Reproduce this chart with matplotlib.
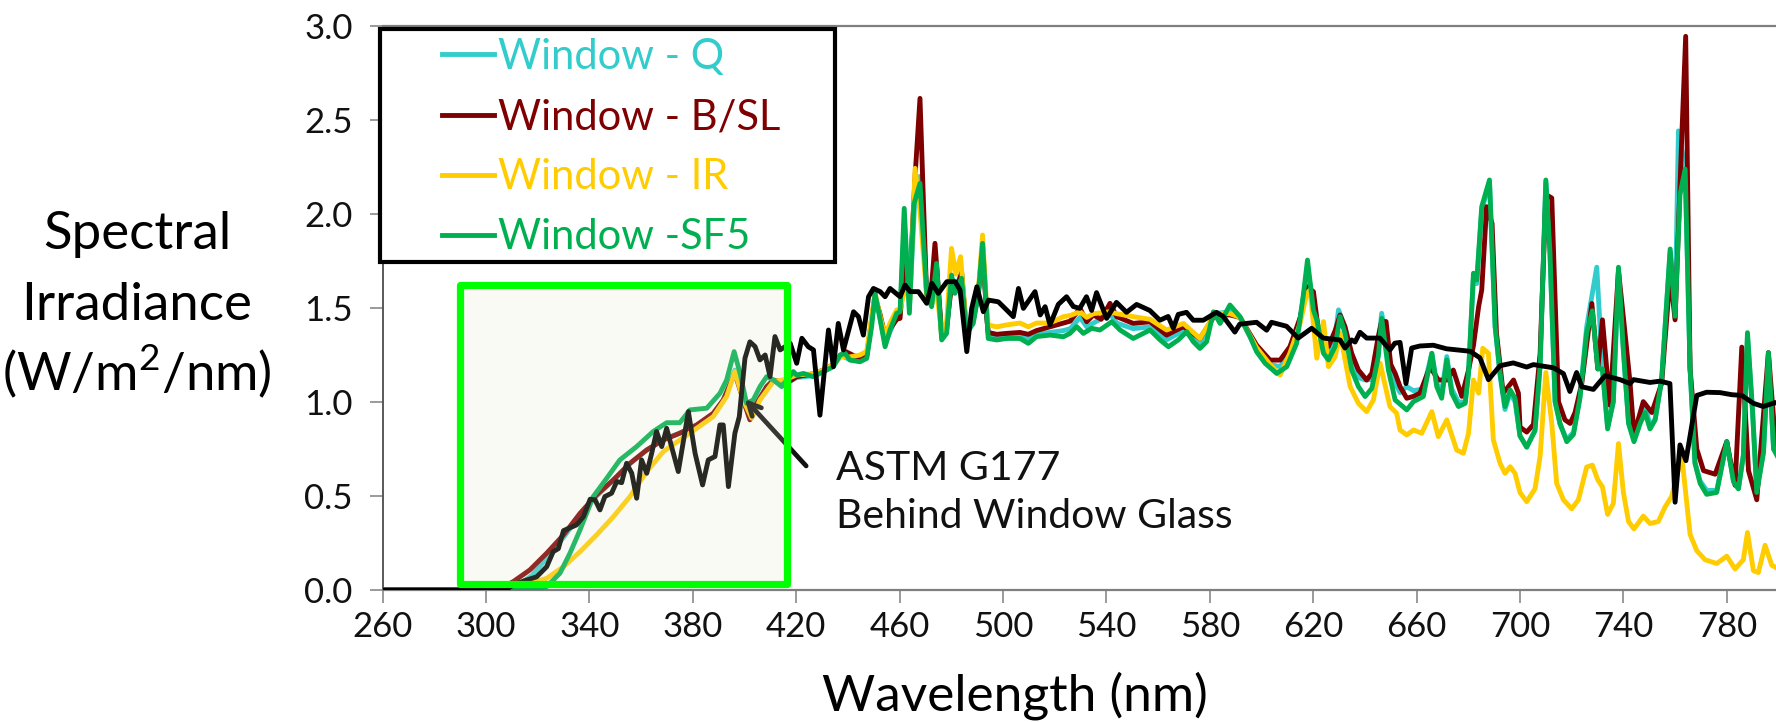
import matplotlib.pyplot as plt
from matplotlib.patches import Rectangle

plt.rcParams['font.family'] = ['Lato', 'DejaVu Sans']
plt.rcParams['mathtext.fontset'] = 'custom'
plt.rcParams['mathtext.rm'] = 'Lato'

# Window - Q
q_nm = [260, 300, 308, 313, 318, 323.5, 330, 336.4, 342.8, 349.3, 355.7, 362.2, 368.6, 375, 381.5, 387.9,
        391.8, 396.3, 399.5, 402.1, 404.7, 408.6, 411.2, 416.3, 420.2, 426.6, 430.5, 434.4, 437, 440.8,
        444.7, 447.3, 450.5, 452.4, 454.4, 458.9, 460.2, 461.8, 463.8, 466, 467.9, 470.5, 472.4, 474.3,
        476.3, 478.2, 480.1, 482, 484, 485.9, 488.5, 490.5, 492.1, 493.7, 494.3, 497.6, 501.4, 506.6,
        509.8, 513, 518.2, 523.4, 526, 529.8, 532.4, 535, 541.4, 544, 550.4, 556.9, 563.3, 569.8, 576.2,
        582, 587.8, 591.7, 598.1, 603.3, 607.2, 611, 615, 617.8, 620.1, 622, 624, 625.9, 628.5, 629.8,
        632.3, 634.9, 637.5, 640.1, 642.7, 645.2, 646.5, 649.1, 651.7, 653.6, 656.2, 658.8, 662.6, 665.9,
        667.8, 669.7, 671.7, 673.6, 676.2, 678.8, 680.1, 682, 683.3, 685.2, 688.2, 690.4, 692.3, 694.2,
        696.2, 698.1, 700, 702.6, 705.8, 707.8, 710, 711.6, 713.6, 715.5, 718.1, 720.7, 723.2, 725.8,
        729.7, 731.9, 733.9, 736.1, 738.1, 740, 742, 744.1, 746.5, 748.4, 750.3, 752.3, 754.8, 758.1,
        760, 761.3, 763.9, 765.8, 767.7, 769.7, 772.2, 776.1, 780, 782.6, 784.5, 786.4, 788, 790, 791.6,
        794.2, 796.1, 798.1, 800]
q_val = [0, 0, 0.005, 0.03, 0.08, 0.17, 0.28, 0.40, 0.50, 0.585, 0.672, 0.745, 0.80, 0.835, 0.875, 0.935,
         1.01, 1.17, 1.01, 0.92, 0.99, 1.08, 1.11, 1.10, 1.13, 1.14, 1.165, 1.19, 1.25, 1.225,
         1.22, 1.24, 1.57, 1.45, 1.31, 1.46, 1.47, 1.95, 1.5, 2.1, 2.2, 1.58, 1.52, 1.72,
         1.34, 1.38, 1.66, 1.62, 1.685, 1.37, 1.43, 1.58, 1.84, 1.47, 1.36, 1.35, 1.355, 1.355,
         1.34, 1.36, 1.37, 1.38, 1.39, 1.45, 1.40, 1.42, 1.47, 1.42, 1.39, 1.40, 1.33, 1.38, 1.31,
         1.47, 1.48, 1.45, 1.28, 1.20, 1.188, 1.26, 1.45, 1.70, 1.52, 1.40, 1.28, 1.25, 1.35, 1.49,
         1.40, 1.22, 1.13, 1.117, 1.12, 1.30, 1.472, 1.25, 1.10, 1.05, 1.082, 1.06, 1.07, 1.259,
         1.10, 1.05, 1.242, 1.07, 1.00, 1.0, 1.16, 1.66, 1.63, 2.02, 2.17, 1.40, 1.14, 0.96,
         1.05, 1.00, 0.82, 0.76, 0.85, 1.2, 2.17, 1.79, 1.0, 0.88, 0.80, 0.84, 1.03, 1.40,
         1.717, 1.17, 0.87, 1.0, 1.70, 1.28, 0.89, 0.80, 0.90, 0.99, 0.87, 0.91, 1.12, 1.80,
         1.45, 2.442, 2.24, 1.18, 0.68, 0.58, 0.53, 0.53, 0.79, 0.58, 0.54, 0.72, 1.35, 0.94, 0.53,
         0.74, 1.25, 0.75, 0.72]

# Window - B/SL
bsl_nm = [260, 300, 305, 310.6, 317, 323.5, 330, 336.4, 342.8, 349.3, 355.7, 362.2, 368.6, 375, 381.5,
          387.9, 391.8, 396.3, 399.5, 402.1, 404.7, 408.6, 411.2, 416.3, 420.2, 426.6, 430.5, 434.4,
          438.9, 444.7, 447.3, 450.5, 452.4, 454.4, 458.9, 460.2, 461.8, 463.8, 466, 467.9, 470.5, 472,
          473.7, 476.3, 478.2, 480.1, 482, 484, 485.9, 488.5, 490.5, 492.1, 493.7, 494.3, 497.6, 501.4,
          506.6, 509.8, 513, 518.2, 523.4, 526, 529.8, 532.4, 535, 538, 541.4, 544, 550.4, 556.9, 563.3,
          569.8, 576.2, 582, 587.8, 591.7, 598.1, 603.3, 607.2, 611, 615, 617.5, 620.1, 622, 624, 625.9,
          628.5, 630.4, 632.3, 634.9, 637.5, 640.7, 642.7, 645.2, 646.5, 648.2, 650, 651.7, 653.6, 656.2,
          658.8, 661.3, 665.2, 668.4, 671.7, 674.2, 677.5, 680.1, 682, 684, 685.2, 687.1, 689.2, 690.9,
          693.5, 697.5, 699.4, 700, 702.6, 705.2, 707.8, 710, 712.3, 714.9, 717.4, 719.4, 721.3, 723.9,
          727.8, 730.1, 731.9, 734.8, 738.1, 740.4, 742.6, 744.1, 747.7, 751, 754.8, 758.1, 760, 762.6,
          764.1, 765.8, 768.4, 771, 775.5, 780, 783.2, 785.8, 788.4, 791.6, 796.1, 798.7, 800]
bsl_val = [0, 0, 0.005, 0.045, 0.107, 0.196, 0.293, 0.408, 0.506, 0.586, 0.674, 0.745, 0.798, 0.834, 0.878,
           0.94, 1.011, 1.153, 1.011, 0.905, 0.993, 1.082, 1.117, 1.1, 1.135, 1.15, 1.17, 1.2,
           1.27, 1.23, 1.25, 1.56, 1.47, 1.35, 1.44, 1.445, 1.75, 1.6, 2.2, 2.615, 1.55, 1.55,
           1.844, 1.36, 1.40, 1.62, 1.60, 1.69, 1.37, 1.44, 1.58, 1.83, 1.45, 1.37, 1.36, 1.365,
           1.37, 1.36, 1.38, 1.40, 1.42, 1.43, 1.498, 1.427, 1.463, 1.44, 1.525, 1.454, 1.418, 1.427, 1.356,
           1.401, 1.338, 1.463, 1.463, 1.45, 1.303, 1.223, 1.223, 1.294, 1.45, 1.613, 1.587, 1.383, 1.3, 1.295,
           1.38, 1.463, 1.40, 1.259, 1.17, 1.117, 1.153, 1.35, 1.43, 1.428, 1.2, 1.153, 1.082, 1.02,
           1.03, 1.047, 1.188, 1.117, 1.117, 1.17, 1.03, 1.17, 1.30, 1.507, 1.596, 2.039, 1.95, 1.367,
           1.047, 1.117, 1.047, 0.867, 0.84, 0.88, 1.26, 2.104, 2.085, 1.002, 0.905, 0.886, 0.944, 1.099,
           1.524, 1.176, 1.437, 0.983, 1.698, 1.398, 1.099, 0.828, 1.002, 0.944, 1.099, 1.678, 1.437, 2.413,
           2.945, 1.176, 0.75, 0.635, 0.616, 0.789, 0.557, 1.292, 0.635, 0.48, 1.263, 0.81, 0.75]

# Window - IR
ir_nm = [260, 300, 312, 317, 323.5, 330, 336.4, 342.8, 349.3, 355.7, 362.2, 368.6, 375, 381.5, 387.9,
         393.1, 396.3, 399.5, 402.8, 406, 411.2, 416, 420.2, 426.6, 430.5, 434.4, 437, 440.8, 444.7,
         447.3, 450.5, 452.4, 454.4, 456.3, 458.9, 460.2, 462, 464, 466, 468, 470.5, 472.4, 474.3, 476.3,
         478.2, 480.1, 481.8, 483.6, 485.9, 488.5, 490.5, 492.1, 493.7, 494.3, 497.6, 501.4, 506.6, 509.8,
         513, 518.2, 523.4, 526, 529.8, 532.4, 535, 541.4, 544, 550.4, 556.9, 563.3, 569.8, 576.2, 582,
         587.8, 591.7, 598.1, 603.3, 607.2, 611, 615, 617.5, 618.8, 621.4, 624, 625.9, 628.5, 630.4,
         634.3, 637.5, 640.7, 643.3, 645.9, 649.7, 652.3, 653.6, 656.2, 658.8, 662, 665.9, 668.4, 671.7,
         675.5, 678.1, 680.1, 682, 684, 685.6, 687.8, 689.7, 692.3, 694.2, 696.2, 698.1, 700, 702.6,
         705.8, 707.8, 710, 712.3, 714.2, 716.8, 720, 722.6, 725.8, 728, 730.1, 731.9, 733.9, 736.1,
         738.1, 740, 742, 744.1, 747.7, 750.3, 753.5, 756.1, 758.7, 762.6, 765.8, 768.4, 771.6, 776.1,
         780, 783.2, 786.4, 788, 790.3, 792.2, 794.8, 797.4, 800]
ir_val = [0, 0, 0.01, 0.036, 0.062, 0.124, 0.204, 0.293, 0.39, 0.497, 0.63, 0.736, 0.798, 0.86, 0.922,
          1.029, 1.162, 1.011, 0.914, 1.011, 1.109, 1.12, 1.144, 1.15, 1.17, 1.2, 1.24, 1.24, 1.25,
          1.27, 1.58, 1.46, 1.35, 1.42, 1.49, 1.49, 1.6, 1.55, 2.243, 2.0, 1.56, 1.52, 1.60, 1.36,
          1.42, 1.817, 1.68, 1.773, 1.38, 1.45, 1.60, 1.888, 1.50, 1.41, 1.40, 1.41, 1.42, 1.40,
          1.42, 1.42, 1.454, 1.46, 1.48, 1.45, 1.47, 1.48, 1.47, 1.454, 1.44, 1.383, 1.418, 1.338, 1.47,
          1.47, 1.45, 1.29, 1.20, 1.143, 1.26, 1.42, 1.578, 1.596, 1.233, 1.428, 1.188, 1.241, 1.366,
          1.082, 0.993, 0.949, 1.011, 1.206, 0.976, 0.94, 0.851, 0.825, 0.851, 0.834, 0.949, 0.816, 0.905,
          0.745, 0.727, 0.834, 1.117, 1.047, 1.286, 1.259, 0.798, 0.674, 0.621, 0.656, 0.62, 0.519, 0.47,
          0.538, 0.712, 1.157, 0.886, 0.567, 0.48, 0.432, 0.48, 0.654, 0.664, 0.586, 0.548, 0.402, 0.46,
          0.779, 0.519, 0.364, 0.325, 0.393, 0.354, 0.364, 0.441, 0.499, 0.712, 0.296, 0.209, 0.161, 0.141,
          0.18, 0.112, 0.161, 0.306, 0.103, 0.093, 0.238, 0.132, 0.112]

# Window - SF5
sf5_nm = [260, 300, 312, 318.3, 323.5, 328.6, 332.5, 336.4, 341.5, 346.7, 351.8, 358.3, 364.7, 369.9, 375,
          378.9, 385.4, 390.5, 393.1, 396, 398.3, 400.8, 403.4, 406, 408.6, 411.2, 414.4, 418.9, 420.2,
          422.8, 426.6, 430.5, 434.4, 437, 438.9, 440.8, 444.7, 447.3, 449.2, 450.5, 452.4, 454.4, 456.3,
          458.9, 460.2, 461.8, 463.8, 465.5, 467.9, 470.5, 472.4, 474.3, 476.3, 478.2, 480.1, 481.4, 484,
          485.9, 488.5, 490.5, 492.1, 493.7, 494.3, 497.6, 501.4, 506.6, 509.8, 513, 518.2, 523.4, 525.9,
          528.5, 531.1, 534.3, 537.5, 542.1, 545.3, 550.4, 556.9, 560.8, 564, 567.8, 571.1, 573.6, 576.2,
          578.8, 581.4, 584, 587.8, 591.7, 595.6, 598.1, 601.4, 605.9, 609.8, 613.6, 616.2, 617.8, 620.1,
          621.4, 624, 625.9, 628.5, 630.4, 632.3, 634.9, 637.5, 640.1, 642.7, 645.2, 646.5, 649.1, 651.7,
          656.2, 658.8, 662.6, 665.9, 667.8, 669.7, 671.7, 673.6, 676.2, 678.8, 680.1, 682, 683.3, 685.2,
          688.2, 690.4, 692.3, 694.2, 696.2, 698.1, 700, 702.6, 705.8, 707.8, 710, 711.6, 713.6, 715.5,
          718.1, 720.7, 723.2, 725.8, 728, 730.1, 731.9, 733.9, 736.1, 738.1, 740, 742, 744.1, 746.5,
          748.4, 750.3, 752.3, 754.8, 758.1, 760, 761.9, 763.9, 765.8, 767.7, 769.7, 772.2, 776.1, 780,
          782.6, 784.5, 786.4, 788, 790, 791.6, 794.2, 796.1, 798.1, 800]
sf5_val = [0, 0, 0, 0.004, 0.018, 0.089, 0.196, 0.32, 0.497, 0.594, 0.692, 0.763, 0.843, 0.89, 0.89,
           0.958, 0.967, 1.046, 1.117, 1.268, 1.153, 0.993, 1.011, 1.082, 1.135, 1.117, 1.082, 1.162, 1.143,
           1.152, 1.135, 1.161, 1.188, 1.25, 1.259, 1.223, 1.214, 1.232, 1.401, 1.578, 1.445, 1.294, 1.383,
           1.472, 1.48, 2.03, 1.472, 2.05, 2.163, 1.578, 1.507, 1.737, 1.33, 1.365, 1.675, 1.578, 1.658,
           1.365, 1.418, 1.578, 1.844, 1.472, 1.338, 1.33, 1.338, 1.338, 1.312, 1.348, 1.356, 1.347, 1.365,
           1.401, 1.365, 1.392, 1.383, 1.427, 1.383, 1.338, 1.383, 1.33, 1.294, 1.33, 1.374, 1.321, 1.285,
           1.321, 1.48, 1.418, 1.516, 1.454, 1.347, 1.268, 1.206, 1.152, 1.188, 1.312, 1.569, 1.755, 1.489,
           1.437, 1.259, 1.224, 1.295, 1.454, 1.366, 1.17, 1.082, 1.029, 1.073, 1.242, 1.445, 1.17, 1.011,
           0.958, 1.002, 1.029, 1.259, 1.082, 1.02, 1.224, 1.047, 0.976, 0.993, 1.153, 1.685, 1.649, 2.039,
           2.181, 1.401, 1.153, 0.976, 1.064, 1.02, 0.82, 0.76, 0.847, 1.195, 2.181, 1.795, 1.002, 0.886,
           0.789, 0.828, 1.021, 1.369, 1.485, 1.176, 1.176, 0.857, 1.002, 1.717, 1.272, 0.886, 0.789, 0.886,
           0.944, 0.857, 0.905, 1.118, 1.814, 1.456, 2.104, 2.239, 1.176, 0.673, 0.567, 0.509, 0.519, 0.789,
           0.576, 0.538, 0.712, 1.369, 0.944, 0.519, 0.731, 1.263, 0.75, 0.7]

# ASTM G177 behind window glass
astm_nm = [260, 300, 308, 310.6, 315, 319.6, 323.5, 326, 328, 330, 335, 337.7, 340.3, 342.2, 344.1, 346,
           348.6, 350.6, 352.5, 354.4, 356.4, 358.3, 360.2, 362.2, 364.1, 366, 368, 369.9, 371.8, 374.4,
           378.3, 380.9, 383.8, 386, 388.6, 390.5, 391.8, 393.8, 396.3, 398, 400.2, 402.1, 404.1, 406, 408,
           409.9, 411.8, 413.8, 417.7, 420.2, 422.2, 424.7, 426.7, 429.2, 432.5, 434.4, 436.3, 438.3, 442.2,
           444.1, 446, 448, 449.9, 452.5, 454.4, 456.3, 460.2, 462.1, 464.1, 467.3, 470.5, 472.5, 475,
           478.3, 481.5, 483.4, 486, 487.9, 489.9, 492.4, 494.4, 498.2, 500.8, 504, 506, 507.9, 512.4,
           514.4, 516.3, 518.2, 521.4, 524.6, 527.2, 529.7, 532.3, 534.3, 536.2, 540.1, 543.9, 547.8,
           551.7, 556.8, 560.7, 563.9, 565.9, 567.8, 571, 573.6, 577.5, 582.6, 585.2, 589.7, 591.6, 598.1,
           602, 603.9, 609.7, 614.2, 619.4, 623.9, 630.4, 632.3, 634.9, 636.2, 638.1, 640.7, 645.8, 649.7,
           651.6, 653.6, 655.9, 658.1, 661.3, 666.5, 671.6, 680.7, 684.5, 687.8, 692.3, 697.4, 702.6,
           705.2, 712.9, 716.8, 719.3, 721.9, 723.9, 728.4, 732.9, 738.7, 742.6, 743.9, 750.3, 754.2, 758,
           760, 761.9, 764.2, 768.4, 772.2, 777.4, 781.9, 785.8, 790.3, 794.1, 798.7, 800]
astm_val = [0, 0, 0.005, 0.027, 0.05, 0.07, 0.124, 0.204, 0.22, 0.316, 0.346, 0.39, 0.483, 0.48, 0.426, 0.497,
            0.515, 0.577, 0.571, 0.674, 0.621, 0.488, 0.692, 0.621, 0.727, 0.843, 0.763, 0.86, 0.763, 0.63,
            0.949, 0.727, 0.559, 0.692, 0.71, 0.878, 0.878, 0.55, 0.834, 0.922, 1.233, 1.32, 1.295, 1.224, 1.25,
            1.135, 1.348, 1.277, 1.312, 1.206, 1.339, 1.294, 1.277, 0.93, 1.383, 1.188, 1.418, 1.277, 1.48,
            1.454, 1.356, 1.56, 1.604, 1.587, 1.56, 1.604, 1.56, 1.622, 1.587, 1.587, 1.525, 1.631, 1.578,
            1.64, 1.64, 1.596, 1.268, 1.498, 1.613, 1.48, 1.542, 1.533, 1.498, 1.454, 1.604, 1.498, 1.587,
            1.463, 1.507, 1.41, 1.519, 1.56, 1.508, 1.498, 1.56, 1.487, 1.582, 1.445, 1.53, 1.477,
            1.519, 1.487, 1.435, 1.455, 1.393, 1.466, 1.477, 1.435, 1.435, 1.477, 1.455, 1.372, 1.414, 1.424,
            1.382, 1.424, 1.403, 1.34, 1.392, 1.34, 1.33, 1.287, 1.33, 1.319, 1.371, 1.34, 1.34, 1.277,
            1.313, 1.317, 1.098, 1.287, 1.298, 1.302, 1.283, 1.27, 1.235, 1.119, 1.193, 1.208, 1.186,
            1.199, 1.182, 1.151, 1.056, 1.157, 1.081, 1.067, 1.14, 1.119, 1.098, 1.119, 1.104, 1.111, 1.098,
            0.467, 0.772, 0.688, 1.035, 1.052, 1.05, 1.039, 1.035, 0.993, 0.976, 0.997, 0.99]

x_ticks = list(range(260, 781, 40))
y_ticks = [0.0, 0.5, 1.0, 1.5, 2.0, 2.5, 3.0]
ylabel_lines = ['Spectral', 'Irradiance', '(W/m$^{2}$/nm)']

# highlighted UV band and the pointer to the ASTM curve
box_nm = (290, 416.5)
box_val = (0.03, 1.62)
arrow_head = (399.4, 1.027)
arrow_tail = (424.6, 0.649)

fig = plt.figure(figsize=(17.76, 7.22), dpi=100)
ax = fig.add_axes([0.2154, 0.1828, 0.786, 0.7812])

lw = 3.5
ax.plot(q_nm, q_val, color='#33CCCC', lw=lw, label='Window - Q', zorder=2)
ax.plot(bsl_nm, bsl_val, color='#7F0000', lw=lw, label='Window - B/SL', zorder=3)
ax.plot(ir_nm, ir_val, color='#FFCC00', lw=lw, label='Window - IR', zorder=4)
ax.plot(sf5_nm, sf5_val, color='#00B050', lw=lw, label='Window -SF5', zorder=5)
ax.plot(astm_nm, astm_val, color='black', lw=lw, zorder=6)

ax.annotate('', xy=arrow_head, xytext=arrow_tail, zorder=7,
            arrowprops=dict(arrowstyle='->,head_length=0.9,head_width=0.45', color='#111111', lw=3.4))
ax.text(435.4, 0.746, 'ASTM G177\nBehind Window Glass', fontsize=29.5, color='#111111',
        va='top', ha='left', linespacing=1.36)

ax.add_patch(Rectangle((box_nm[0], box_val[0]), box_nm[1] - box_nm[0], box_val[1] - box_val[0],
                       facecolor=(0.9, 0.9, 0.8, 0.18), edgecolor='#00FF00', lw=5.2,
                       joinstyle='round', zorder=8))

ax.set_xlim(260, 800)
ax.set_ylim(0, 3.0)
ax.set_xticks(x_ticks)
ax.set_yticks(y_ticks)
ax.set_yticklabels([f'{v:.1f}' for v in y_ticks])

for side in ['top', 'bottom']:
    ax.spines[side].set_color('#7F7F7F')
    ax.spines[side].set_linewidth(1.6)
ax.spines['left'].set_color('#595959')
ax.spines['left'].set_linewidth(1.4)
ax.spines['right'].set_visible(False)

ax.tick_params(axis='both', direction='out', length=9.4, width=1.1, color='#7F7F7F',
               labelsize=25, labelcolor='#111111')
ax.tick_params(axis='y', pad=12)
ax.tick_params(axis='x', pad=5.5)

# y label, one line per text so the superscript doesn't stretch the spacing
for i, line in enumerate(ylabel_lines):
    fig.text(137 / 1776, 1 - (249 + 71 * i) / 722, line, fontsize=38, ha='center', va='baseline')
fig.text(1015 / 1776, 12 / 722, 'Wavelength (nm)', fontsize=37, ha='center', va='baseline')

# legend with a heavy black frame
frame = Rectangle((380 / 1776, 1 - 262 / 722), 455 / 1776, 233 / 722, transform=fig.transFigure,
                  facecolor='white', edgecolor='black', lw=3, zorder=20, clip_on=False)
ax.add_artist(frame)
leg = ax.legend(loc='upper left', bbox_to_anchor=(442 / 1776, 1 - 38 / 722), bbox_transform=fig.transFigure,
                frameon=False, fontsize=30, handlelength=1.25, handletextpad=0.1, labelspacing=0.53,
                borderpad=0, borderaxespad=0, labelcolor='linecolor')
leg.set_zorder(21)

fig.savefig('out.png', dpi=100)
